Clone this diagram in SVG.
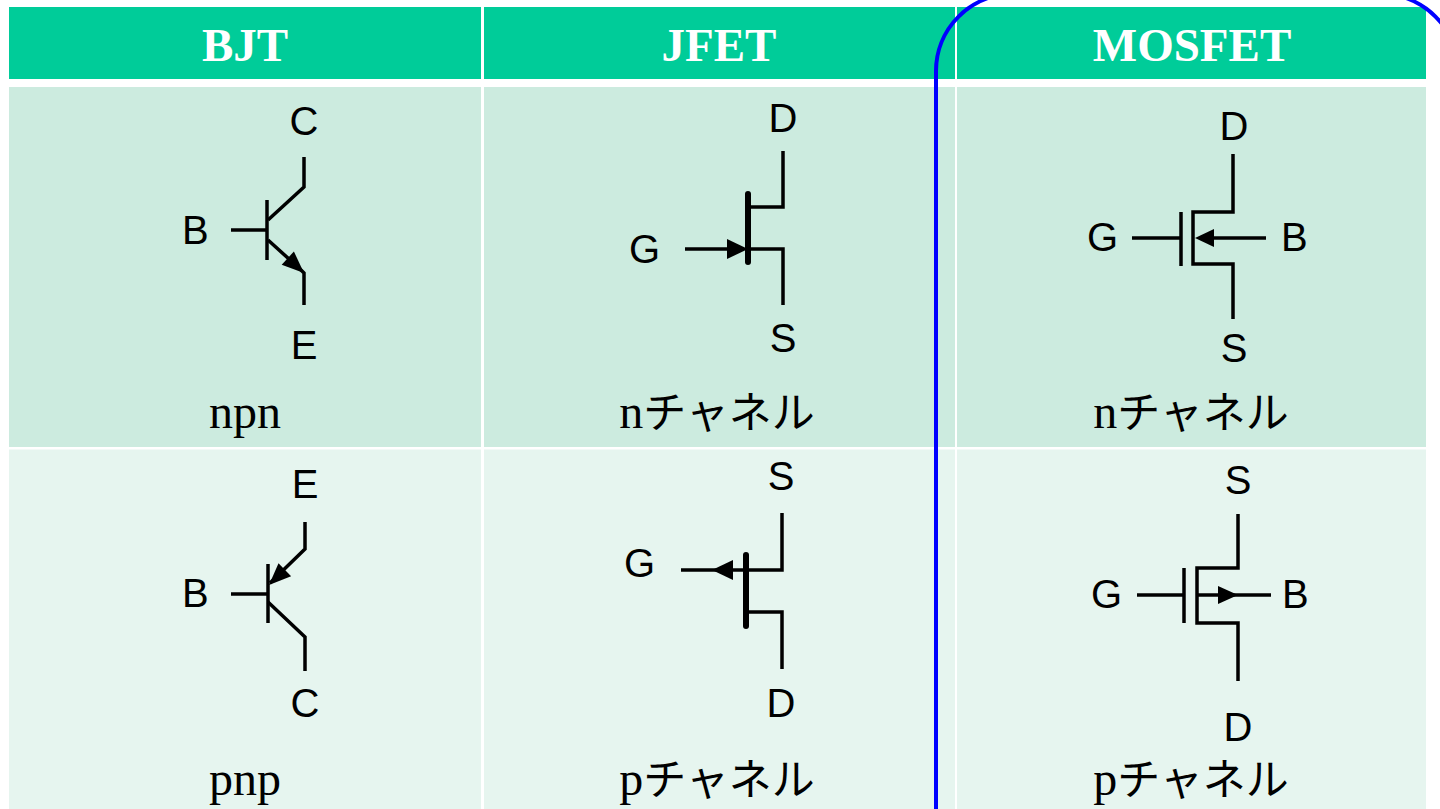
<svg xmlns="http://www.w3.org/2000/svg" width="1440" height="809" viewBox="0 0 1440 809">
<style>
.hdr{fill:#00CC99}
.r1{fill:#CCEBDF}
.r2{fill:#E6F5EF}
.ht{font-family:"Liberation Serif","Times New Roman",serif;font-weight:bold;font-size:47px;fill:#FFFFFF;text-anchor:middle}
.lbl{font-family:"Liberation Sans",Arial,sans-serif;font-size:40px;fill:#000}
.mid{text-anchor:middle}
.cap{font-family:"Liberation Serif","Noto Sans CJK JP",serif;font-size:48px;fill:#000;text-anchor:middle}
.jp{font-family:"Noto Sans CJK JP",sans-serif;font-size:43px}
.w{fill:none;stroke:#000;stroke-width:3.5;stroke-linecap:butt;stroke-linejoin:miter}
.thick{fill:none;stroke:#000;stroke-width:6;stroke-linecap:round}
.ah{fill:#000;stroke:none}
</style>
<rect x="0" y="0" width="1440" height="809" fill="#FFFFFF"/>
<g id="table">
<rect class="hdr" x="9" y="7" width="472" height="72"/>
<rect class="hdr" x="484" y="7" width="471" height="72"/>
<rect class="hdr" x="957" y="7" width="469" height="72"/>
<rect class="r1" x="9" y="87" width="472" height="360"/>
<rect class="r1" x="484" y="87" width="471" height="360"/>
<rect class="r1" x="957" y="87" width="469" height="360"/>
<rect class="r2" x="9" y="449.5" width="472" height="360"/>
<rect class="r2" x="484" y="449.5" width="471" height="360"/>
<rect class="r2" x="957" y="449.5" width="469" height="360"/>
<text class="ht" x="245" y="61">BJT</text>
<text class="ht" x="719" y="61">JFET</text>
<text class="ht" x="1192" y="61">MOSFET</text>
</g>
<g id="bjt-npn">
<polyline class="w" points="304,157 304,187 268,220"/>
<line class="w" x1="267" y1="200" x2="267" y2="260"/>
<line class="w" x1="231" y1="230" x2="267" y2="230"/>
<polyline class="w" points="268,240 300,269 304,273 304,305"/>
<polygon class="ah" points="304,273 281.7,264.7 293.9,251.5"/>
<text class="lbl mid" x="304" y="135">C</text>
<text class="lbl" x="182" y="244">B</text>
<text class="lbl mid" x="304" y="359">E</text>
<text class="cap" x="245" y="428">npn</text>
</g>
<g id="bjt-pnp">
<polyline class="w" points="305,522 305,549 270,583"/>
<polygon class="ah" points="269,585 278.5,563.2 291.1,576.2"/>
<line class="w" x1="268" y1="564" x2="268" y2="623"/>
<line class="w" x1="231" y1="594" x2="268" y2="594"/>
<polyline class="w" points="268,602 305,637 305,671"/>
<text class="lbl mid" x="305" y="498">E</text>
<text class="lbl" x="182" y="607">B</text>
<text class="lbl mid" x="305" y="717">C</text>
<text class="cap" x="245" y="795">pnp</text>
</g>
<g id="jfet-n">
<polyline class="w" points="751,207 783,207 783,151"/>
<polyline class="w" points="748,249 783,249 783,305"/>
<line class="w" x1="685" y1="249" x2="735" y2="249"/>
<polygon class="ah" points="748,249 727,239 727,259"/>
<line class="thick" x1="748" y1="194" x2="748" y2="262"/>
<text class="lbl mid" x="783" y="132">D</text>
<text class="lbl" x="629" y="263">G</text>
<text class="lbl mid" x="783" y="352">S</text>
<text class="cap" x="717" y="428">n<tspan class="jp">チャネル</tspan></text>
</g>
<g id="jfet-p">
<polyline class="w" points="681,570 782,570 782,513"/>
<polygon class="ah" points="712,570 733,560 733,580"/>
<polyline class="w" points="746,612 782,612 782,669"/>
<line class="thick" x1="746" y1="555" x2="746" y2="626"/>
<text class="lbl mid" x="781" y="490">S</text>
<text class="lbl" x="624" y="577">G</text>
<text class="lbl mid" x="781" y="717">D</text>
<text class="cap" x="717" y="795">p<tspan class="jp">チャネル</tspan></text>
</g>
<g id="mosfet-n">
<polyline class="w" points="1233,154 1233,212 1193,212 1193,264 1233,264 1233,319"/>
<line class="w" x1="1181" y1="212" x2="1181" y2="266"/>
<line class="w" x1="1132" y1="238" x2="1181" y2="238"/>
<line class="w" x1="1205" y1="238" x2="1266" y2="238"/>
<polygon class="ah" points="1195,238 1214,229 1214,247"/>
<text class="lbl mid" x="1234" y="140">D</text>
<text class="lbl" x="1087" y="251">G</text>
<text class="lbl" x="1281" y="251">B</text>
<text class="lbl mid" x="1234" y="362">S</text>
<text class="cap" x="1191" y="428">n<tspan class="jp">チャネル</tspan></text>
</g>
<g id="mosfet-p">
<polyline class="w" points="1238,514 1238,568 1197,568 1197,623 1238,623 1238,681"/>
<line class="w" x1="1184" y1="568" x2="1184" y2="623"/>
<line class="w" x1="1137" y1="595" x2="1184" y2="595"/>
<line class="w" x1="1197" y1="595" x2="1271" y2="595"/>
<polygon class="ah" points="1238,595 1218,586 1218,604"/>
<text class="lbl mid" x="1238" y="494">S</text>
<text class="lbl" x="1091" y="608">G</text>
<text class="lbl" x="1282" y="608">B</text>
<text class="lbl mid" x="1238" y="741">D</text>
<text class="cap" x="1191" y="795">p<tspan class="jp">チャネル</tspan></text>
</g>
<g id="highlight">
<path d="M936,900 V71 A77,77 0 0 1 1013,-6 H1381 A77,77 0 0 1 1458,71 V900" fill="none" stroke="#0000FF" stroke-width="4"/>
</g>
</svg>
